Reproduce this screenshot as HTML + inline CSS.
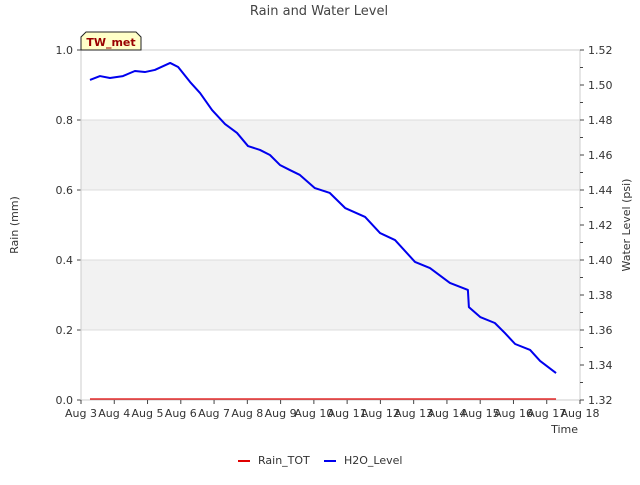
<!DOCTYPE html>
<html><head><meta charset="utf-8"><style>
body{margin:0;background:#fff;font-family:"Liberation Sans","DejaVu Sans",sans-serif}
text{font-family:"DejaVu Sans","Liberation Sans",sans-serif}
</style></head><body>
<svg id="c" width="640" height="480" xmlns="http://www.w3.org/2000/svg"></svg>
<script>
const dayLabels=["Aug 3","Aug 4","Aug 5","Aug 6","Aug 7","Aug 8","Aug 9","Aug 10","Aug 11","Aug 12","Aug 13","Aug 14","Aug 15","Aug 16","Aug 17","Aug 18"];
const leftTicks=[0.0,0.2,0.4,0.6,0.8,1.0];
const rightTicks=[1.32,1.34,1.36,1.38,1.40,1.42,1.44,1.46,1.48,1.50,1.52];
const h2oDays=[0.27,0.57,0.87,1.26,1.62,1.92,2.22,2.68,2.92,3.28,3.58,3.94,4.33,4.69,5.02,5.38,5.68,5.98,6.28,6.58,7.03,7.48,7.94,8.54,8.99,9.44,10.04,10.49,11.09,11.63,11.66,12.0,12.44,12.74,13.05,13.5,13.8,14.28];
const h2oVals=[1.5029,1.5051,1.504,1.5051,1.508,1.5074,1.5086,1.5126,1.5103,1.5017,1.4954,1.4857,1.4777,1.4726,1.4651,1.4629,1.46,1.4543,1.4514,1.4486,1.4411,1.4383,1.4297,1.4246,1.4154,1.4114,1.3989,1.3954,1.3869,1.3829,1.3731,1.3674,1.364,1.3583,1.352,1.3486,1.3423,1.3354];
const rainDays=[0.27,14.28];
const rainVals=[0,0];
const svg=document.getElementById('c');const NS='http://www.w3.org/2000/svg';
const L=81,R=580,T=50,B=400;
const x=d=>L+d*(R-L)/15, yl=v=>B-v*(B-T), yr=v=>B-(v-1.32)/0.2*(B-T);
function el(t,a,p){const e=document.createElementNS(NS,t);for(const k in a)e.setAttribute(k,a[k]);(p||svg).appendChild(e);return e;}
function txt(s,a){const e=el('text',a);e.textContent=s;return e;}
// bands
[[0.2,0.4],[0.6,0.8]].forEach(b=>{const r=el('rect',{x:L,y:yl(b[1]),width:R-L,height:yl(b[0])-yl(b[1]),fill:'#f2f2f2'});});
leftTicks.forEach(v=>{const g=el('line',{x1:L,x2:R,y1:yl(v),y2:yl(v),stroke:'#dcdcdc'});
el('line',{x1:L-4,x2:L,y1:yl(v),y2:yl(v),stroke:'#444'});
const t=txt(v.toFixed(1),{x:L-8,y:yl(v)+4,'text-anchor':'end','font-size':11,fill:'#333'});});
const fr=el('rect',{x:L,y:T,width:R-L,height:B-T,fill:'none',stroke:'#ccc'});
rightTicks.forEach((v,i)=>{el('line',{x1:R,x2:R+4,y1:yr(v),y2:yr(v),stroke:'#444'});
if(i<rightTicks.length-1){const m=v+0.01;el('line',{x1:R,x2:R+3,y1:yr(m),y2:yr(m),stroke:'#444'});}
const t=txt(v.toFixed(2),{x:R+8,y:yr(v)+4,'font-size':11,fill:'#333'});});
dayLabels.forEach((s,i)=>{el('line',{x1:x(i),x2:x(i),y1:B,y2:B+4,stroke:'#444'});
const t=txt(s,{x:x(i),y:B+17,'text-anchor':'middle','font-size':11,fill:'#333'});});
const rl=el('polyline',{points:rainDays.map((d,i)=>x(d)+','+(yl(rainVals[i])-1)).join(' '),fill:'none',stroke:'#e00000','stroke-width':1.2});

const hl=el('polyline',{points:h2oDays.map((d,i)=>x(d)+','+yr(h2oVals[i])).join(' '),fill:'none',stroke:'#0000ee','stroke-width':2,'stroke-linejoin':'round'});

let t;
t=txt('Rain and Water Level',{x:319,y:15,'text-anchor':'middle','font-size':13,fill:'#444'});
t=txt('Time',{x:578,y:433,'text-anchor':'end','font-size':11,fill:'#333'});
t=txt('Rain (mm)',{x:18,y:225,'text-anchor':'middle','font-size':11,fill:'#333',transform:'rotate(-90 18 225)'});
t=txt('Water Level (psi)',{x:630,y:225,'text-anchor':'middle','font-size':11,fill:'#333',transform:'rotate(-90 630 225)'});
const bx=el('path',{d:'M81,50 L81,37 L86,32 L136,32 L141,37 L141,50 Z',fill:'#ffffc8',stroke:'#222'});
t=txt('TW_met',{x:111,y:46,'text-anchor':'middle','font-size':11,'font-weight':'bold',fill:'#990000'});
const lg1=el('line',{x1:238,x2:250,y1:461,y2:461,stroke:'#e00000','stroke-width':2});
t=txt('Rain_TOT',{x:258,y:464,'font-size':11,fill:'#333'});
const lg2=el('line',{x1:324,x2:336,y1:461,y2:461,stroke:'#0000ee','stroke-width':2});
t=txt('H2O_Level',{x:344,y:464,'font-size':11,fill:'#333'});
</script></body></html>
